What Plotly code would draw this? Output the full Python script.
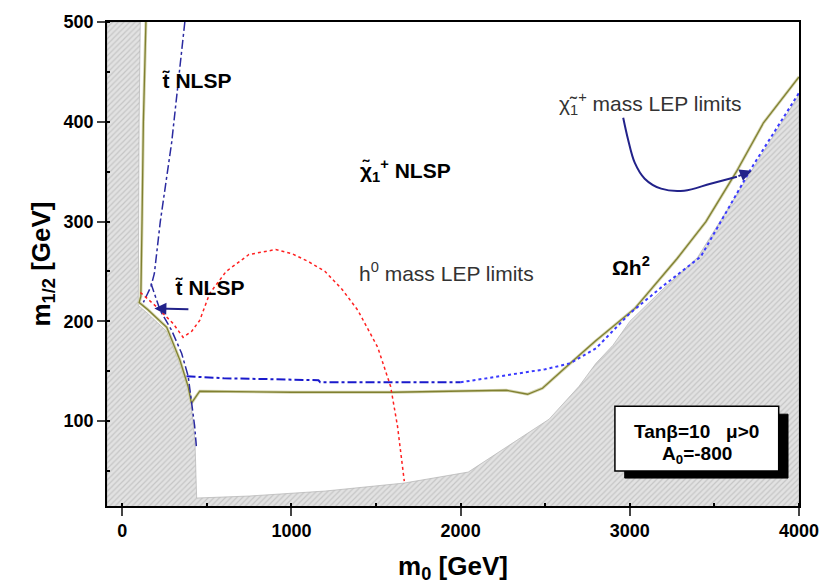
import plotly.graph_objects as go

# ---------------- data ----------------
# excluded (hatched) region boundary
excl_m0 = [-90, -90, 107, 100, 95, 150, 263, 341, 389, 409, 430, 440,
           750, 1200, 1666, 2045, 2523, 2700, 2800, 2900, 3000, 3200, 3400, 3713, 4000, 4000]
excl_m12 = [15, 500, 500, 400, 216, 208, 190, 157, 132, 115, 80, 23,
            25, 30, 38, 49, 102, 135, 158, 176, 200, 233, 264, 349, 427, 15]

# relic density (Omega h^2) boundary - olive
omega_m0 = [140, 125, 117, 110, 100, 150, 263, 341, 389, 409, 458, 1000, 1600,
            2270, 2396, 2484, 2648, 2795, 3030, 3280, 3450, 3630, 3790, 4000]
omega_m12 = [500, 400, 300, 225, 219, 212, 194, 161, 135, 118, 130, 129, 129,
             131, 127, 133, 158, 180, 213, 263, 300, 350, 399, 445]

# chargino LEP limit - blue (dash-dot part and dotted part)
chi_a_m0 = [380, 600, 900, 1160, 1170, 1500, 2000]
chi_a_m12 = [145, 143, 142, 141, 139, 139, 139]
chi_b_m0 = [2000, 2300, 2500, 2648, 2800, 3000, 3200, 3420, 3713, 4000]
chi_b_m12 = [139, 147, 152, 158, 173, 208, 236, 265, 352, 429]

# stop NLSP boundary - dark blue
stop_a_m0 = [370, 292, 225, 190, 170, 125]
stop_a_m12 = [500, 379, 300, 248, 235, 219]
stop_b_m0 = [170, 224, 292, 351, 390, 409, 428, 438]
stop_b_m12 = [238, 211, 191, 168, 145, 122, 95, 75]

# light higgs LEP limit - red
higgs_m0 = [107, 200, 300, 360, 410, 458, 517, 614, 749, 907, 1001, 1100, 1199,
            1300, 1393, 1510, 1586, 1627, 1667]
higgs_m12 = [229, 215, 198, 184, 190, 201, 228, 250, 267, 272, 268, 260, 250,
             232, 211, 174, 135, 95, 40]

# curved pointer from the chargino label
ptr_m0 = [2961, 2990, 3029, 3088, 3185, 3321, 3477, 3633]
ptr_m12 = [404, 382, 359, 343, 333, 331, 338, 345]

x_ticks = [0, 1000, 2000, 3000, 4000]
y_ticks = [100, 200, 300, 400, 500]

fig = go.Figure()

fig.add_trace(go.Scatter(
    x=excl_m0, y=excl_m12, fill="toself", mode="lines",
    line=dict(color="rgba(170,170,170,0.6)", width=1),
    fillcolor="#e0e0e0",
    fillpattern=dict(shape="/", fgcolor="#a8a8a8", bgcolor="#e2e2e2", size=4, solidity=0.3),
    hoverinfo="skip", showlegend=False))

# olive line: light halo + dark core
fig.add_trace(go.Scatter(x=omega_m0, y=omega_m12, mode="lines",
                         line=dict(color="#d4d4b0", width=3), showlegend=False))
fig.add_trace(go.Scatter(x=omega_m0, y=omega_m12, mode="lines",
                         line=dict(color="#808030", width=1.3), showlegend=False))

fig.add_trace(go.Scatter(x=chi_a_m0, y=chi_a_m12, mode="lines",
                         line=dict(color="#1a1acc", width=2, dash="dashdot"), showlegend=False))
fig.add_trace(go.Scatter(x=chi_b_m0, y=chi_b_m12, mode="lines",
                         line=dict(color="#3a3aff", width=2, dash="dot"), showlegend=False))

fig.add_trace(go.Scatter(x=stop_a_m0, y=stop_a_m12, mode="lines",
                         line=dict(color="#2a2aa0", width=1.5, dash="dashdot"), showlegend=False))
fig.add_trace(go.Scatter(x=stop_b_m0, y=stop_b_m12, mode="lines",
                         line=dict(color="#2a2aa0", width=1.5, dash="dashdot"), showlegend=False))

fig.add_trace(go.Scatter(x=higgs_m0, y=higgs_m12, mode="lines",
                         line=dict(color="#ff2020", width=1.5, dash="dot"), showlegend=False))

fig.add_trace(go.Scatter(x=ptr_m0, y=ptr_m12, mode="lines", line_shape="spline",
                         line=dict(color="#22228a", width=2), showlegend=False))

# info box with shadow
fig.add_shape(type="rect", x0=2970, x1=3935, y0=43, y1=107,
              fillcolor="black", line=dict(color="black", width=1), layer="above")
fig.add_shape(type="rect", x0=2912, x1=3880, y0=50, y1=115,
              fillcolor="white", line=dict(color="black", width=1.5), layer="above")

ann_font_b = dict(family="Arial", size=21, color="black", weight="bold")
anns = [
    dict(x=441, y=441, text="t\u0303 NLSP", font=ann_font_b),
    dict(x=516, y=234, text="t\u0303 NLSP", font=ann_font_b),
    dict(x=1673, y=351, text="\u03c7\u0303<sub>1</sub><sup>+</sup> NLSP", font=ann_font_b),
    dict(x=1919, y=249, text="h<sup>0</sup> mass LEP limits",
         font=dict(family="Arial", size=21, color="#333333")),
    dict(x=3122, y=418, text="\u03c7\u0303<sub>1</sub><sup>+</sup> mass LEP limits",
         font=dict(family="Arial", size=21, color="#333333")),
    dict(x=3006, y=255, text="\u03a9h<sup>2</sup>", font=ann_font_b),
    dict(x=3396, y=90, text="Tan\u03b2=10   \u03bc>0",
         font=dict(family="Arial", size=19, color="black", weight="bold")),
    dict(x=3396, y=66, text="A<sub>0</sub>=-800",
         font=dict(family="Arial", size=19, color="black", weight="bold")),
]
for a in anns:
    fig.add_annotation(xref="x", yref="y", showarrow=False, **a)

# arrows
fig.add_annotation(x=3721, y=351, ax=3633, ay=345, xref="x", yref="y", axref="x", ayref="y",
                   showarrow=True, arrowhead=2, arrowsize=1.2, arrowwidth=2, arrowcolor="#22228a", text="")
fig.add_annotation(x=190, y=213, ax=400, ay=212, xref="x", yref="y", axref="x", ayref="y",
                   showarrow=True, arrowhead=2, arrowsize=1.2, arrowwidth=2, arrowcolor="#22228a", text="")

tickfont = dict(family="Arial", size=18, color="black", weight="bold")
fig.update_layout(
    width=831, height=588,
    margin=dict(l=107, r=25, t=18, b=80),
    paper_bgcolor="white", plot_bgcolor="white",
    showlegend=False,
    xaxis=dict(range=[-90, 4000], tickvals=x_ticks, ticks="outside", ticklen=8, tickwidth=1.5,
               showline=True, linecolor="black", linewidth=1.5, mirror=True,
               showgrid=False, zeroline=False, tickfont=tickfont,
               minor=dict(ticks="inside", dtick=500, ticklen=3, tickcolor="black"),
               title=dict(text="m<sub>0</sub> [GeV]", standoff=16,
                          font=dict(family="Arial", size=26, color="black", weight="bold"))),
    yaxis=dict(range=[15, 500], tickvals=y_ticks, ticks="outside", ticklen=8, tickwidth=1.5,
               showline=True, linecolor="black", linewidth=1.5, mirror=True,
               showgrid=False, zeroline=False, tickfont=tickfont,
               minor=dict(ticks="inside", dtick=50, ticklen=3, tickcolor="black"),
               title=dict(text="m<sub>1/2</sub> [GeV]", standoff=6,
                          font=dict(family="Arial", size=26, color="black", weight="bold"))),
)

fig.write_html("out.html")
